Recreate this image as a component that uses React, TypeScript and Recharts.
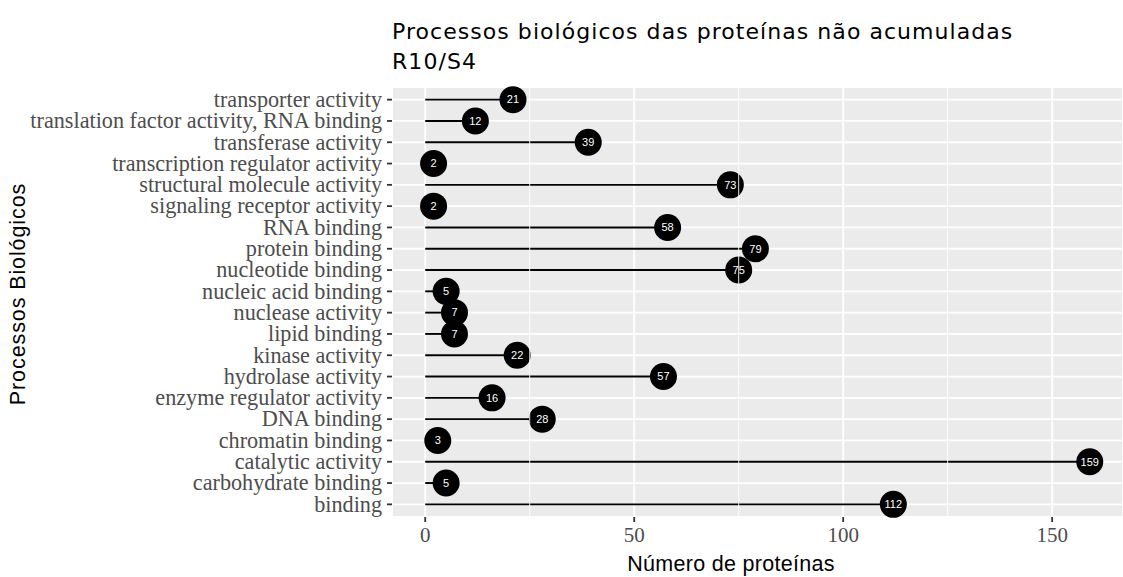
import React from 'react';
import { ComposedChart, Bar, XAxis, YAxis, CartesianGrid, ReferenceLine } from 'recharts';

const categories = [
  'transporter activity',
  'translation factor activity, RNA binding',
  'transferase activity',
  'transcription regulator activity',
  'structural molecule activity',
  'signaling receptor activity',
  'RNA binding',
  'protein binding',
  'nucleotide binding',
  'nucleic acid binding',
  'nuclease activity',
  'lipid binding',
  'kinase activity',
  'hydrolase activity',
  'enzyme regulator activity',
  'DNA binding',
  'chromatin binding',
  'catalytic activity',
  'carbohydrate binding',
  'binding',
];
const counts = [21, 12, 39, 2, 73, 2, 58, 79, 75, 5, 7, 7, 22, 57, 16, 28, 3, 159, 5, 112];
const xTicks = [0, 50, 100, 150];
const minorTicks = [25, 75, 125];

const data = categories.map((c, i) => ({ name: c, value: counts[i] }));

const Lollipop = (props: any) => {
  const { x, y, width, height, value } = props;
  const cy = y + height / 2;
  const ex = x + width;
  return (
    <g>
      <line x1={x} y1={cy} x2={ex} y2={cy} stroke="#000" strokeWidth={1.9} />
      <circle cx={ex} cy={cy} r={13.5} fill="#000" />
      <text x={ex} y={cy} dy="0.35em" textAnchor="middle" fill="#fff" fontSize={11} fontFamily="Liberation Sans, Arial, sans-serif">
        {value}
      </text>
    </g>
  );
};

const YTick = (props: any) => {
  const { x, y, payload } = props;
  return (
    <text x={x - 3} y={y} dy="0.33em" textAnchor="end" fill="#4d4d4d" fontSize={22.2} fontFamily="Liberation Serif, Times New Roman, serif">
      {payload.value}
    </text>
  );
};

const XTick = (props: any) => {
  const { x, y, payload } = props;
  return (
    <text x={x} y={y} dy={17.7} textAnchor="middle" fill="#4d4d4d" fontSize={21} fontFamily="Liberation Serif, Times New Roman, serif">
      {payload.value}
    </text>
  );
};

export default function App() {
  return (
    <div style={{ position: 'absolute', left: 0, top: 0, width: 1123, height: 577, background: '#fff' }}>
      <ComposedChart
        width={1123}
        height={577}
        data={data}
        layout="vertical"
        margin={{ top: 87, right: 0, bottom: 20, left: 0 }}
      >
        <CartesianGrid fill="#EBEBEB" stroke="#fff" strokeWidth={1.8} />
        {minorTicks.map((t) => (
          <ReferenceLine key={t} x={t} stroke="#fff" strokeWidth={0.9} />
        ))}
        <XAxis
          type="number"
          domain={[-7.95, 166.95]}
          ticks={xTicks}
          allowDataOverflow
          axisLine={false}
          tickLine={{ stroke: '#333', strokeWidth: 1.8 }}
          tickSize={5}
          tick={<XTick />}
          height={40}
        />
        <YAxis
          type="category"
          dataKey="name"
          width={392}
          axisLine={false}
          tickLine={{ stroke: '#333', strokeWidth: 1.8 }}
          tickSize={5}
          tick={<YTick />}
          interval={0}
          padding={{ top: 2, bottom: 2 }}
        />
        <Bar dataKey="value" isAnimationActive={false} shape={<Lollipop />} />
      </ComposedChart>
      <div style={{ position: 'absolute', left: 392, top: 17, fontFamily: 'DejaVu Sans, sans-serif', fontSize: 22, letterSpacing: 1.05, lineHeight: '30px', color: '#000', whiteSpace: 'nowrap' }}>
        Processos biológicos das proteínas não acumuladas
        <br />
        R10/S4
      </div>
      <div style={{ position: 'absolute', left: 731, top: 552, transform: 'translateX(-50%)', fontFamily: 'Liberation Sans, Arial, sans-serif', fontSize: 21.5, letterSpacing: 0.3, lineHeight: '25px', color: '#000', whiteSpace: 'nowrap' }}>
        Número de proteínas
      </div>
      <div style={{ position: 'absolute', left: 18, top: 294, transform: 'translate(-50%, -50%) rotate(-90deg)', fontFamily: 'Liberation Sans, Arial, sans-serif', fontSize: 21.5, letterSpacing: 0.9, lineHeight: '25px', color: '#000', whiteSpace: 'nowrap' }}>
        Processos Biológicos
      </div>
    </div>
  );
}
